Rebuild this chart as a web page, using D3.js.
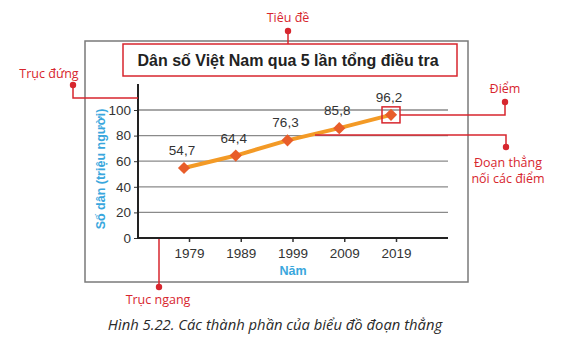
<!DOCTYPE html>
<html><head><meta charset="utf-8">
<script src="https://cdn.jsdelivr.net/npm/d3@7"></script>
<style>body{margin:0;background:#fff}svg{display:block}</style>
</head><body>
<script>
const years = ["1979","1989","1999","2009","2019"];
const population = [54.7, 64.4, 76.3, 85.8, 96.2];
const labels = ["54,7","64,4","76,3","85,8","96,2"];
const yTicks = [0,20,40,60,80,100];
const chartTitle = "Dân số Việt Nam qua 5 lần tổng điều tra";
const yTitle = "Số dân (triệu người)";
const xTitle = "Năm";
const caption = "Hình 5.22. Các thành phần của biểu đồ đoạn thẳng";

const W=566,H=345;
const svg=d3.select("body").append("svg").attr("width",W).attr("height",H);
const font="'Liberation Sans', Arial, sans-serif";
const red="#d7262e", blue="#3aa7dd", dark="#333";

// outer frame
svg.append("rect").attr("x",85).attr("y",41).attr("width",383).attr("height",241)
  .attr("fill","none").attr("stroke","#7a7a7a").attr("stroke-width",1.5);

const x=d3.scalePoint().domain(years).range([184,391]);
const y=d3.scaleLinear().domain([0,100]).range([238,110]);

// gridlines
svg.append("g").selectAll("line").data(yTicks.filter(d=>d>0)).join("line")
  .attr("x1",138).attr("x2",448).attr("y1",d=>y(d)).attr("y2",d=>y(d))
  .attr("stroke","#8a8a8a").attr("stroke-width",1.3);

// y axis
const ya=svg.append("g").attr("transform","translate(138,0)")
  .call(d3.axisLeft(y).tickValues(yTicks).tickSize(4).tickPadding(3));
ya.select(".domain").remove();
ya.selectAll("text").attr("font-family",font).attr("font-size",13.5).attr("fill",dark);
ya.selectAll("line").attr("stroke",dark);
svg.append("line").attr("x1",138).attr("x2",138).attr("y1",84).attr("y2",239)
  .attr("stroke","#222").attr("stroke-width",2);

// x axis
const xa=svg.append("g").attr("transform","translate(5,238)")
  .call(d3.axisBottom(x).tickSize(4).tickPadding(6));
xa.select(".domain").remove();
xa.selectAll("text").attr("font-family",font).attr("font-size",13.5).attr("fill",dark);
xa.selectAll("line").attr("stroke",dark).attr("stroke-width",1.5);
svg.append("line").attr("x1",137).attr("x2",448).attr("y1",238).attr("y2",238)
  .attr("stroke","#222").attr("stroke-width",2.2);

// axis titles
svg.append("text").attr("transform",`translate(105,169) rotate(-90)`)
  .attr("text-anchor","middle").attr("font-family",font).attr("font-size",12.5)
  .attr("font-weight","bold").attr("fill",blue).text(yTitle);
svg.append("text").attr("x",293).attr("y",275).attr("text-anchor","middle")
  .attr("font-family",font).attr("font-size",12.5).attr("font-weight","bold")
  .attr("fill",blue).text(xTitle);

// line
svg.append("path").datum(population)
  .attr("d",d3.line().x((d,i)=>x(years[i])).y(d=>y(d)))
  .attr("fill","none").attr("stroke","#f39a26").attr("stroke-width",4);
// points
svg.append("g").selectAll("path").data(population).join("path")
  .attr("transform",(d,i)=>`translate(${x(years[i])},${y(d)})`)
  .attr("d",d3.symbol(d3.symbolDiamond2,95)).attr("fill","#e85d2a");
// labels
svg.append("g").selectAll("text").data(population).join("text")
  .attr("x",(d,i)=>x(years[i])-2).attr("y",d=>y(d)-13)
  .attr("text-anchor","middle").attr("font-family",font).attr("font-size",13.5)
  .attr("fill",dark).text((d,i)=>labels[i]);

// title box
svg.append("rect").attr("x",123).attr("y",44).attr("width",334).attr("height",32)
  .attr("fill","#fff").attr("stroke",red).attr("stroke-width",1.5);
svg.append("text").attr("x",288).attr("y",65.5).attr("text-anchor","middle")
  .attr("font-family",font).attr("font-size",16).attr("font-weight","bold")
  .attr("fill","#222").text(chartTitle);

// annotations
const ann=svg.append("g").attr("fill","none").attr("stroke",red).attr("stroke-width",1.5);
ann.append("path").attr("d","M288,31V44");
ann.append("path").attr("d","M73,85V98H138");
ann.append("path").attr("d","M159,239V287");
ann.append("path").attr("d","M505,102V115H400");
ann.append("path").attr("d","M315,135H506V147");
const lx=x(years[4]), ly=y(population[4]);
ann.append("rect").attr("x",lx-9).attr("y",ly-8).attr("width",18).attr("height",16);
const dots=[[288,31],[73,85],[159,287],[505,102],[506,147]];
svg.append("g").selectAll("circle").data(dots).join("circle")
  .attr("cx",d=>d[0]).attr("cy",d=>d[1]).attr("r",3.2).attr("fill",red);

const annText=[["Tiêu đề",288,22],["Trục đứng",49,78],["Trục ngang",158,304],
  ["Điểm",505,93],["Đoạn thẳng",508,167],["nối các điểm",508,183]];
svg.append("g").selectAll("text").data(annText).join("text")
  .attr("x",d=>d[1]).attr("y",d=>d[2]).attr("text-anchor","middle")
  .attr("font-family","'Open Sans', sans-serif").attr("font-size",12.5).attr("fill",red).text(d=>d[0]);

// caption
svg.append("text").attr("x",275).attr("y",330).attr("text-anchor","middle")
  .attr("font-family","'Open Sans', sans-serif").attr("font-style","italic")
  .attr("font-size",14.8).attr("fill","#2a2a2a").text(caption);
</script>
</body></html>
